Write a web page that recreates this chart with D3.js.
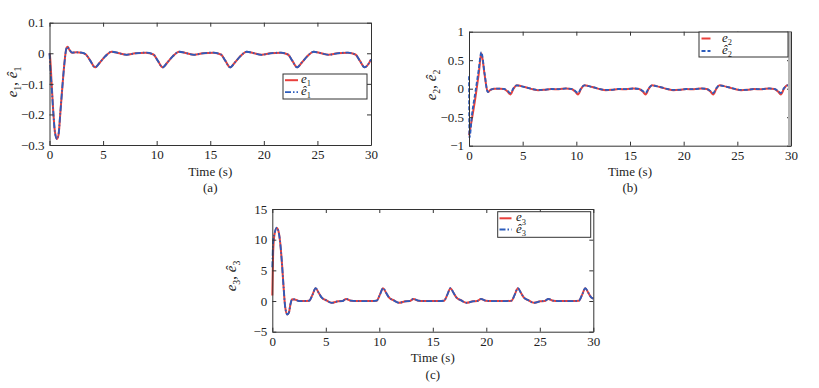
<!DOCTYPE html>
<html>
<head>
<meta charset="utf-8">
<script src="https://cdn.jsdelivr.net/npm/d3@7"></script>
<style>
  body { margin: 0; background: #fff; }
  svg { display: block; }
  text { font-family: "Liberation Serif", "Times New Roman", serif; fill: #222; }
</style>
</head>
<body>
<div class="display"></div>
<script>
// panel (a) : e1 and its estimate
const tA = [0, 0.05, 0.2, 0.35, 0.5, 0.7, 0.85, 1.0, 1.2, 1.4, 1.55, 1.68, 1.85, 2.1, 2.5, 3.0,
  3.4, 3.8, 4.25, 4.7, 5.2, 5.8, 6.4, 7.2, 8.0, 9.0,
  9.7, 10.1, 10.55, 11.0, 11.5, 12.1, 12.7, 13.5, 14.3, 15.3,
  16.0, 16.4, 16.85, 17.3, 17.8, 18.4, 19.0, 19.8, 20.6, 21.6,
  22.25, 22.65, 23.1, 23.55, 24.05, 24.65, 25.25, 26.05, 26.85, 27.85,
  28.55, 28.95, 29.4, 29.85, 30];
const e1 = [0, -0.01, -0.1, -0.19, -0.255, -0.28, -0.265, -0.2, -0.11, -0.03, 0.012, 0.021, 0.012, 0.002, 0.003, 0.002,
  -0.004, -0.024, -0.046, -0.03, -0.01, 0.005, 0.001, -0.005, 0.0, 0.002,
  -0.004, -0.024, -0.046, -0.03, -0.01, 0.005, 0.001, -0.005, 0.0, 0.002,
  -0.004, -0.024, -0.046, -0.03, -0.01, 0.005, 0.001, -0.005, 0.0, 0.002,
  -0.004, -0.024, -0.046, -0.03, -0.01, 0.005, 0.001, -0.005, 0.0, 0.002,
  -0.004, -0.024, -0.046, -0.03, -0.02];
const e1Hat = [0, -0.03, -0.11, -0.19, -0.257, -0.281, -0.264, -0.2, -0.11, -0.03, 0.012, 0.021, 0.012, 0.002, 0.003, 0.002,
  -0.004, -0.024, -0.046, -0.03, -0.01, 0.005, 0.001, -0.005, 0.0, 0.002,
  -0.004, -0.024, -0.046, -0.03, -0.01, 0.005, 0.001, -0.005, 0.0, 0.002,
  -0.004, -0.024, -0.046, -0.03, -0.01, 0.005, 0.001, -0.005, 0.0, 0.002,
  -0.004, -0.024, -0.046, -0.03, -0.01, 0.005, 0.001, -0.005, 0.0, 0.002,
  -0.004, -0.024, -0.046, -0.03, -0.02];

// panel (b) : e2 and its estimate
const tB = [0, 0.04, 0.3, 0.6, 0.9, 1.15, 1.45, 1.75, 2.0, 2.4, 2.9,
  3.25, 3.6, 3.85, 4.15, 4.45, 4.85, 5.35, 5.95, 6.45, 7.05, 7.65, 8.35, 9.05,
  9.55, 9.9, 10.15, 10.45, 10.75, 11.15, 11.65, 12.25, 12.75, 13.35, 13.95, 14.65, 15.35,
  15.85, 16.2, 16.45, 16.75, 17.05, 17.45, 17.95, 18.55, 19.05, 19.65, 20.25, 20.95, 21.65,
  22.15, 22.5, 22.75, 23.05, 23.35, 23.75, 24.25, 24.85, 25.35, 25.95, 26.55, 27.25, 27.95,
  28.45, 28.8, 29.05, 29.35, 29.65, 30];
const e2 = [-0.82, -0.78, -0.5, -0.15, 0.25, 0.62, 0.25, -0.06, -0.02, 0.0, 0.0,
  -0.005, -0.05, -0.1, 0.0, 0.06, 0.045, 0.02, -0.01, -0.025, -0.018, -0.005, -0.01, 0.005,
  -0.005, -0.05, -0.1, 0.0, 0.06, 0.045, 0.02, -0.01, -0.025, -0.018, -0.005, -0.01, 0.005,
  -0.005, -0.05, -0.1, 0.0, 0.06, 0.045, 0.02, -0.01, -0.025, -0.018, -0.005, -0.01, 0.005,
  -0.005, -0.05, -0.1, 0.0, 0.06, 0.045, 0.02, -0.01, -0.025, -0.018, -0.005, -0.01, 0.005,
  -0.005, -0.05, -0.1, 0.0, 0.06, 0.05];
const e2Hat = [0.22, -0.86, -0.42, -0.05, 0.33, 0.64, 0.27, -0.06, -0.02, 0.0, 0.0,
  -0.005, -0.04, -0.075, 0.01, 0.06, 0.045, 0.022, -0.008, -0.022, -0.02, -0.005, -0.008, 0.004,
  -0.005, -0.04, -0.075, 0.01, 0.06, 0.045, 0.022, -0.008, -0.022, -0.02, -0.005, -0.008, 0.004,
  -0.005, -0.04, -0.075, 0.01, 0.06, 0.045, 0.022, -0.008, -0.022, -0.02, -0.005, -0.008, 0.004,
  -0.005, -0.04, -0.075, 0.01, 0.06, 0.045, 0.022, -0.008, -0.022, -0.02, -0.005, -0.008, 0.004,
  -0.005, -0.04, -0.075, 0.01, 0.06, 0.05];

// panel (c) : e3 and its estimate
const tC = [0, 0.08, 0.2, 0.42, 0.6, 0.75, 0.9, 1.05, 1.2, 1.4, 1.55, 1.7, 1.85, 2.1, 2.5,
  2.95, 3.45, 3.75, 4.05, 4.35, 4.6, 5.05, 5.55, 6.15, 6.55, 6.9, 7.35, 7.85,
  9.25, 9.75, 10.05, 10.35, 10.65, 10.9, 11.35, 11.85, 12.45, 12.85, 13.2, 13.65, 14.15,
  15.55, 16.05, 16.35, 16.65, 16.95, 17.2, 17.65, 18.15, 18.75, 19.15, 19.5, 19.95, 20.45,
  21.85, 22.35, 22.65, 22.95, 23.25, 23.5, 23.95, 24.45, 25.05, 25.45, 25.8, 26.25, 26.75,
  28.15, 28.65, 28.95, 29.25, 29.55, 29.8, 30];
const e3 = [0.9, 8.0, 10.8, 11.9, 11.2, 9.3, 6.2, 2.4, -0.9, -2.2, -1.9, -0.5, 0.3, 0.25, 0.0,
  0.0, 0.05, 1.0, 2.1, 1.3, 0.6, 0.1, -0.3, -0.05, 0.0, 0.35, 0.05, 0.0,
  0.0, 0.05, 1.0, 2.1, 1.3, 0.6, 0.1, -0.3, -0.05, 0.0, 0.35, 0.05, 0.0,
  0.0, 0.05, 1.0, 2.1, 1.3, 0.6, 0.1, -0.3, -0.05, 0.0, 0.35, 0.05, 0.0,
  0.0, 0.05, 1.0, 2.1, 1.3, 0.6, 0.1, -0.3, -0.05, 0.0, 0.35, 0.05, 0.0,
  0.0, 0.05, 1.0, 2.1, 1.3, 0.6, 0.4];
const e3Hat = [5.5, 9.6, 10.9, 11.95, 11.2, 9.3, 6.2, 2.4, -0.9, -2.2, -1.9, -0.5, 0.3, 0.25, 0.0,
  0.0, 0.05, 1.0, 2.1, 1.3, 0.6, 0.1, -0.3, -0.05, 0.0, 0.35, 0.05, 0.0,
  0.0, 0.05, 1.0, 2.1, 1.3, 0.6, 0.1, -0.3, -0.05, 0.0, 0.35, 0.05, 0.0,
  0.0, 0.05, 1.0, 2.1, 1.3, 0.6, 0.1, -0.3, -0.05, 0.0, 0.35, 0.05, 0.0,
  0.0, 0.05, 1.0, 2.1, 1.3, 0.6, 0.1, -0.3, -0.05, 0.0, 0.35, 0.05, 0.0,
  0.0, 0.05, 1.0, 2.1, 1.3, 0.6, 0.4];

// tick values
const xTicks = [0, 5, 10, 15, 20, 25, 30];
const yTicksA = [0.1, 0, -0.1, -0.2, -0.3];
const yTicksB = [1, 0.5, 0, -0.5, -1];
const yTicksC = [15, 10, 5, 0, -5];
const captions = ["(a)", "(b)", "(c)"];

const RED = "#e8403c";
const BLUE = "#2c5cbc";
const AXIS = "#333";

const svg = d3.select(".display")
  .append("svg")
  .attr("width", 819)
  .attr("height", 388);

svg.append("rect").attr("width", 819).attr("height", 388).attr("fill", "#fff");

//panel layout
const panels = [
  { t: tA, s1: e1, s2: e1Hat, idx: "1", yTicks: yTicksA, cap: captions[0],
    l: 49.5, r: 371, top: 22.7, b: 145, dash: "6,2,1.5,2",
    ylab: { x: 17, y: 82 }, timeY: 176, capY: 192,
    leg: { x: 283, y: 74, w: 84, h: 25, rows: [80.2, 92.2], lx: 285, lw: 13, tx: 301 } },
  { t: tB, s1: e2, s2: e2Hat, idx: "2", yTicks: yTicksB, cap: captions[1],
    l: 469, r: 791, top: 31.7, b: 145.7, dash: "4,2",
    ylab: { x: 436, y: 85 }, timeY: 176, capY: 192,
    leg: { x: 699, y: 32, w: 89, h: 25, rows: [38.5, 51], lx: 701.5, lw: 9, tx: 722 } },
  { t: tC, s1: e3, s2: e3Hat, idx: "3", yTicks: yTicksC, cap: captions[2],
    l: 272.3, r: 593.3, top: 209, b: 331.7, dash: "6,2,1.5,2",
    ylab: { x: 236, y: 276 }, timeY: 362, capY: 379,
    leg: { x: 497.7, y: 211.7, w: 93, h: 25.6, rows: [218.3, 229.5], lx: 499.5, lw: 12, tx: 516 } }
];

const fmt = d => (d < 0 ? "\u2212" + Math.abs(d) : String(d));

//writes e_i or ê_i with italic letter and subscript
function eLabel(textSel, idx, hat, size) {
  textSel.append("tspan")
    .style("font-style", "italic")
    .text(hat ? "\u00ea" : "e");
  textSel.append("tspan")
    .attr("dy", size * 0.25)
    .style("font-size", (size * 0.65) + "px")
    .text(idx);
}

panels.forEach(p => {
  const g = svg.append("g");
  const x = d3.scaleLinear().domain([0, 30]).range([p.l, p.r]);
  const yDom = d3.extent(p.yTicks);
  const y = d3.scaleLinear().domain(yDom).range([p.b, p.top]);

  //lines
  const line = vals => d3.line()
    .x((d, i) => x(p.t[i]))
    .y(d => y(d))
    .curve(d3.curveMonotoneX)(vals);

  g.append("path")
    .attr("d", line(p.s1))
    .attr("fill", "none")
    .attr("stroke", RED)
    .attr("stroke-width", 2);
  g.append("path")
    .attr("d", line(p.s2))
    .attr("fill", "none")
    .attr("stroke", BLUE)
    .attr("stroke-width", 1.8)
    .attr("stroke-dasharray", p.dash);

  //box axes with inward ticks
  const axes = [
    { a: d3.axisBottom(x).tickValues(xTicks).tickFormat(fmt), tr: `translate(0,${p.b})` },
    { a: d3.axisTop(x).tickValues(xTicks).tickFormat(""), tr: `translate(0,${p.top})` },
    { a: d3.axisLeft(y).tickValues(p.yTicks).tickFormat(fmt), tr: `translate(${p.l},0)` },
    { a: d3.axisRight(y).tickValues(p.yTicks).tickFormat(""), tr: `translate(${p.r},0)` }
  ];
  axes.forEach(ax => {
    const ag = g.append("g")
      .attr("transform", ax.tr)
      .call(ax.a.tickSizeInner(-4).tickSizeOuter(0).tickPadding(5));
    ag.select(".domain").attr("stroke", AXIS);
    ag.selectAll(".tick line").attr("stroke", AXIS);
    ag.selectAll("text")
      .filter(function() { return this.textContent === ""; })
      .remove();
    ag.selectAll("text")
      .attr("fill", "#222")
      .style("font-family", "'Liberation Serif', serif")
      .style("font-size", "13px");
  });

  //gray strip along right side of panel (b)
  if (p.idx === "2") {
    g.append("rect")
      .attr("x", p.r - 3)
      .attr("y", p.top + 0.5)
      .attr("width", 3)
      .attr("height", p.b - p.top - 1)
      .attr("fill", "#b5b5b5");
  }

  //axis titles
  g.append("text")
    .attr("x", (p.l + p.r) / 2)
    .attr("y", p.timeY)
    .attr("text-anchor", "middle")
    .style("font-size", "13px")
    .text("Time (s)");
  g.append("text")
    .attr("x", (p.l + p.r) / 2)
    .attr("y", p.capY)
    .attr("text-anchor", "middle")
    .style("font-size", "13px")
    .text(p.cap);

  const yl = g.append("text")
    .attr("transform", `translate(${p.ylab.x},${p.ylab.y}) rotate(-90)`)
    .attr("text-anchor", "middle")
    .style("font-size", "15px");
  eLabel(yl, p.idx, false, 15);
  yl.append("tspan").attr("dy", -15 * 0.25).text(", ");
  eLabel(yl, p.idx, true, 15);

  //legend
  const L = p.leg;
  g.append("rect")
    .attr("x", L.x)
    .attr("y", L.y)
    .attr("width", L.w)
    .attr("height", L.h)
    .attr("fill", "#fff")
    .attr("stroke", AXIS)
    .attr("stroke-width", 1);
  [0, 1].forEach(k => {
    g.append("line")
      .attr("x1", L.lx)
      .attr("x2", L.lx + L.lw)
      .attr("y1", L.rows[k])
      .attr("y2", L.rows[k])
      .attr("stroke", k === 0 ? RED : BLUE)
      .attr("stroke-width", k === 0 ? 2 : 1.8)
      .attr("stroke-dasharray", k === 0 ? null : p.dash);
    const lt = g.append("text")
      .attr("x", L.tx)
      .attr("y", L.rows[k] + 3)
      .style("font-size", "13px");
    eLabel(lt, p.idx, k === 1, 13);
  });
});
</script>
</body>
</html>
